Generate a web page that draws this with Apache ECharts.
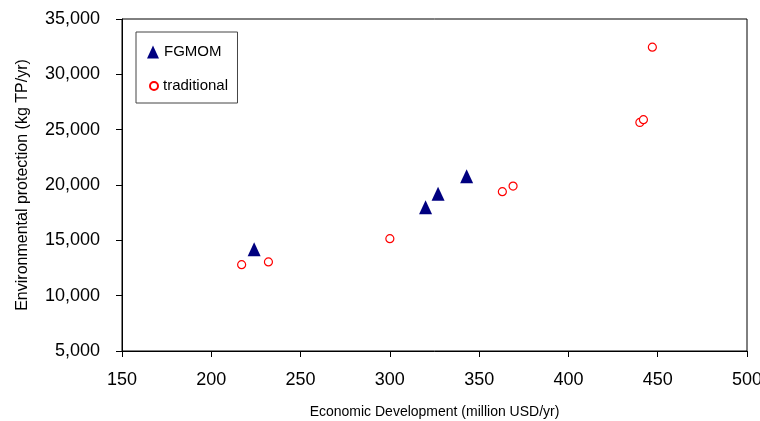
<!DOCTYPE html>
<html>
<head>
<meta charset="utf-8">
<script src="https://cdn.jsdelivr.net/npm/echarts@6/dist/echarts.min.js"></script>
<style>
  html, body { margin: 0; padding: 0; background: #fff; }
  #chart { width: 760px; height: 421px; }
</style>
</head>
<body>
<div id="chart"></div>
<script>
// data
const fgmomX = [224, 320, 327, 343];
const fgmomY = [14200, 18000, 19200, 20800];
const tradX = [217, 232, 300, 363, 369, 440, 442, 447];
const tradY = [12800, 13050, 15150, 19400, 19900, 25650, 25900, 32450];

const xTicks = [150, 500, 50];     // min, max, interval
const yTicks = [5000, 35000, 5000];

const FONT = "'Liberation Sans', Arial, sans-serif";

const zip = (xs, ys) => xs.map((x, i) => [x, ys[i]]);

const chart = echarts.init(document.getElementById('chart'));

chart.setOption({
  animation: false,
  backgroundColor: '#fff',
  textStyle: { fontFamily: FONT },
  grid: {
    left: 122, right: 13, top: 19, bottom: 70,
    outerBoundsMode: 'none',
    show: true, borderColor: '#000', borderWidth: 1
  },
  // first legend draws the frame round both entries
  legend: [
    {
      data: [{ name: 'FGMOM', icon: 'triangle' }],
      orient: 'vertical',
      left: 136, top: 32,
      padding: [11, 16, 42, 11],
      itemWidth: 12, itemHeight: 13,
      borderColor: '#444', borderWidth: 1,
      textStyle: { fontFamily: FONT, fontSize: 15, lineHeight: 18, color: '#000' }
    },
    {
      data: [{ name: 'traditional', icon: 'circle' }],
      orient: 'vertical',
      left: 149, top: 77,
      padding: 0,
      itemWidth: 8, itemHeight: 8,
      textStyle: { fontFamily: FONT, fontSize: 15, lineHeight: 18, color: '#000' }
    }
  ],
  xAxis: {
    type: 'value',
    min: xTicks[0], max: xTicks[1], interval: xTicks[2],
    name: 'Economic Development (million USD/yr)',
    nameLocation: 'middle', nameGap: 54,
    nameTextStyle: { fontFamily: FONT, fontSize: 14, color: '#000' },
    splitLine: { show: false },
    axisLine: { lineStyle: { color: '#000', width: 1 } },
    axisTick: { length: 6, lineStyle: { color: '#000' } },
    axisLabel: { margin: 20, fontFamily: FONT, fontSize: 18, color: '#000' }
  },
  yAxis: {
    type: 'value',
    min: yTicks[0], max: yTicks[1], interval: yTicks[2],
    name: 'Environmental protection (kg TP/yr)',
    nameLocation: 'middle', nameGap: 91,
    nameTextStyle: { fontFamily: FONT, fontSize: 16, color: '#000' },
    splitLine: { show: false },
    axisLine: { show: true, lineStyle: { color: '#000', width: 1 } },
    axisTick: { show: true, length: 6, lineStyle: { color: '#000' } },
    axisLabel: {
      margin: 22, fontFamily: FONT, fontSize: 18, color: '#000',
      formatter: v => v.toLocaleString('en-US')
    }
  },
  series: [
    {
      name: 'FGMOM',
      type: 'scatter',
      symbol: 'triangle',
      symbolSize: [13, 14],
      itemStyle: { color: '#000080', opacity: 1 },
      data: zip(fgmomX, fgmomY),
      z: 3
    },
    {
      name: 'traditional',
      type: 'scatter',
      symbol: 'circle',
      symbolSize: 8,
      itemStyle: { color: '#fff', borderColor: '#ff0000', borderWidth: 1.2, opacity: 1 },
      data: zip(tradX, tradY),
      z: 2
    }
  ]
});

window.addEventListener('resize', () => chart.resize());
</script>
</body>
</html>
